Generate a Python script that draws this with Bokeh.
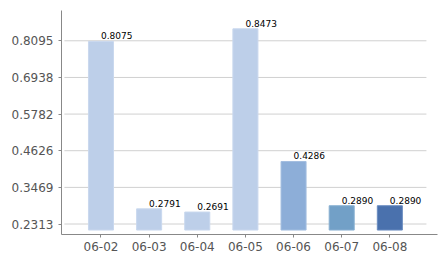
from bokeh.plotting import figure
from bokeh.models import Range1d, FixedTicker, ColumnDataSource
from bokeh.core.properties import value
from bokeh.embed import file_html
from bokeh.resources import INLINE

categories = ["06-02", "06-03", "06-04", "06-05", "06-06", "06-07", "06-08"]
values = [0.8075, 0.2791, 0.2691, 0.8473, 0.4286, 0.2890, 0.2890]
y_ticks = [0.2313, 0.3469, 0.4626, 0.5782, 0.6938, 0.8095]
bar_colors = ["#BDCFE9", "#BDCFE9", "#BDCFE9", "#BDCFE9", "#8DAED8", "#72A0C7", "#4A71AD"]
edge_colors = ["#C9D8EE", "#C9D8EE", "#C9D8EE", "#C9D8EE", "#A3BEE0", "#8AB1D2", "#6A8CC0"]

idx = list(range(len(categories)))
base = 0.2123

p = figure(width=438, height=260, output_backend="svg", toolbar_location=None,
           x_range=Range1d(-0.82, 6.99), y_range=Range1d(0.1982, 0.9051),
           min_border_left=61, min_border_right=1, min_border_top=10, min_border_bottom=26)
p.outline_line_color = None
p.background_fill_color = "white"
p.border_fill_color = "white"
p.xgrid.visible = False
p.ygrid.visible = False

# horizontal grid lines
p.segment(x0=[-0.76] * len(y_ticks), x1=[6.76] * len(y_ticks), y0=y_ticks, y1=y_ticks,
          line_color="#D0D0D0", line_width=1)

src = ColumnDataSource(dict(x=idx, top=values, fill=bar_colors, edge=edge_colors,
                            label=["%.4f" % v for v in values]))
p.vbar(x="x", top="top", bottom=base, width=0.52, source=src,
       fill_color="fill", line_color="edge", line_width=1)
p.text(x="x", y="top", text="label", source=src, text_align="left", text_baseline="bottom",
       y_offset=-2, text_font=value("DejaVu Sans"), text_font_size="9px", text_color="#000000")

for ax in (p.xaxis[0], p.yaxis[0]):
    ax.axis_line_color = "#888888"
    ax.major_tick_line_color = "#888888"
    ax.minor_tick_line_color = None
    ax.major_tick_in = 0
    ax.major_tick_out = 3
    ax.major_label_text_font = "DejaVu Sans"
    ax.major_label_text_font_size = "12px"
    ax.major_label_text_color = "#555555"

p.yaxis.ticker = FixedTicker(ticks=y_ticks)
p.yaxis.major_label_overrides = {t: "%.4f" % t for t in y_ticks}
p.yaxis.major_label_standoff = 5
p.xaxis.ticker = FixedTicker(ticks=idx)
p.xaxis.major_label_overrides = {i: c for i, c in zip(idx, categories)}
p.xaxis.major_label_standoff = 4

open("out.html", "w").write(file_html(p, INLINE))
